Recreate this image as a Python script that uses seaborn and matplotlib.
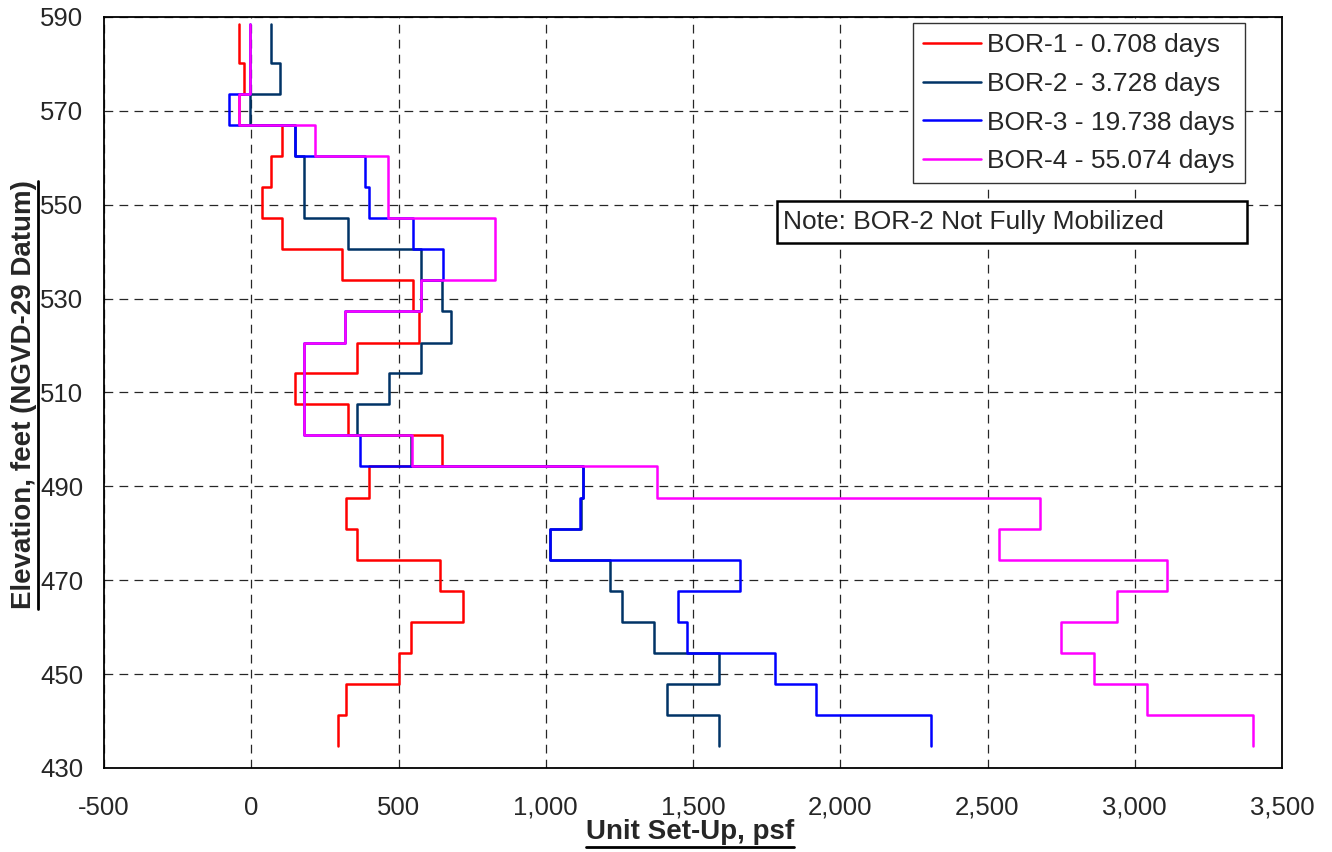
import numpy as np
import pandas as pd
import seaborn as sns
import matplotlib.pyplot as plt
from matplotlib.lines import Line2D
from matplotlib.patches import Rectangle
from matplotlib.ticker import MultipleLocator, FuncFormatter

# elevation breaks (ft, NGVD-29), top of pile to toe
elev = [588.6, 580.3, 573.5, 566.9, 560.4, 553.8, 547.1, 540.5, 534.0, 527.3, 520.6, 514.1,
        507.5, 500.9, 494.3, 487.6, 481.0, 474.4, 467.8, 461.2, 454.5, 447.9, 441.3, 434.6]

# unit set-up (psf) for each segment between the breaks
bor1 = [-43, -26, -43, 104, 67, 38, 106, 307, 548, 568, 359, 147, 329, 648, 400, 321, 360,
        640, 720, 543, 503, 321, 293]
bor2 = [67, 98, -3, 147, 178, 178, 327, 576, 648, 679, 576, 468, 359, 543, 1128, 1121, 1016,
        1219, 1258, 1368, 1589, 1411, 1589]
bor3 = [-3, -3, -74, 147, 387, 401, 548, 650, 576, 319, 178, 178, 178, 370, 1125, 1117, 1013,
        1659, 1449, 1478, 1778, 1918, 2309]
bor4 = [-3, -3, -43, 217, 466, 466, 829, 829, 576, 319, 178, 178, 178, 545, 1378, 2679, 2540,
        3110, 2939, 2751, 2861, 3040, 3400]

labels = ["BOR-1 - 0.708 days", "BOR-2 - 3.728 days", "BOR-3 - 19.738 days", "BOR-4 - 55.074 days"]
colors = ["#FF0000", "#003366", "#0000FF", "#FF00FF"]

rows = []
for lab, vals in zip(labels, [bor1, bor2, bor3, bor4]):
    for i, v in enumerate(vals):
        rows.append({"series": lab, "setup": v, "elev": elev[i]})
        rows.append({"series": lab, "setup": v, "elev": elev[i + 1]})
df = pd.DataFrame(rows)

sns.set_style("white")
plt.rcParams["font.family"] = ["Liberation Sans", "DejaVu Sans"]

fig = plt.figure(figsize=(13.32, 8.52), dpi=100)
ax = fig.add_axes([104 / 1332, 1 - 768 / 852, 1178 / 1332, 751 / 852])

for lab, col in zip(labels, colors):
    sns.lineplot(data=df[df.series == lab], x="setup", y="elev", sort=False, estimator=None,
                 color=col, lw=1.8, ax=ax)

ax.set_xlim(-500, 3500)
ax.set_ylim(430, 590)
ax.xaxis.set_major_locator(MultipleLocator(500))
ax.xaxis.set_minor_locator(MultipleLocator(100))
ax.set_yticks(np.arange(430, 591, 20))
ax.yaxis.set_minor_locator(MultipleLocator(5))
ax.xaxis.set_major_formatter(FuncFormatter(lambda v, p: f"{int(v):,}"))
ax.tick_params(axis="both", which="major", direction="inout", length=10, width=1.2,
               labelsize=18.5, color="black", pad=10)
ax.tick_params(axis="both", which="minor", direction="out", length=5, width=1.0, color="black")
ax.tick_params(axis="x", which="major", direction="out", length=7, pad=13)
ax.grid(True, which="major", color="black", linestyle=(0, (7, 5)), linewidth=0.9, alpha=0.85)
for s in ax.spines.values():
    s.set_color("black")
    s.set_linewidth(1.3)
ax.set_xlabel("")
ax.set_ylabel("")

handles = [Line2D([0], [0], color=c, lw=1.8) for c in colors]
leg = ax.legend(handles, labels, loc="upper right", bbox_to_anchor=(0.9686, 0.992),
                borderaxespad=0, fontsize=19, frameon=True, fancybox=False, framealpha=1,
                edgecolor="#333333", handlelength=2.2, handletextpad=0.25, labelspacing=0.56,
                borderpad=0.38)
leg.get_frame().set_linewidth(1.0)

ax.add_patch(Rectangle((0.5713, 0.699), 0.399, 0.0559, transform=ax.transAxes,
                       fill=True, facecolor="white", edgecolor="black", lw=1.8, zorder=5))
ax.text(0.5764, 0.727, "Note: BOR-2 Not Fully Mobilized", transform=ax.transAxes,
        fontsize=19, va="center", ha="left", zorder=6)

narrow = ["Liberation Sans Narrow", "DejaVu Sans Condensed", "Liberation Sans"]
xl = fig.text(690 / 1332, 1 - 832 / 852, "Unit Set-Up, psf", ha="center", va="center",
              fontsize=20, fontweight="bold", family=narrow)
yl = fig.text(24 / 1332, 1 - 395 / 852, "Elevation, feet (NGVD-29 Datum)", ha="center",
              va="center", rotation=90, fontsize=20, fontweight="bold", family=narrow)

# underline both axis titles
fig.canvas.draw()
r = fig.canvas.get_renderer()
inv = fig.transFigure.inverted()
bb = xl.get_window_extent(r).transformed(inv)
fig.add_artist(Line2D([bb.x0, bb.x1], [bb.y0 - 0.002, bb.y0 - 0.002], color="black", lw=2))
bb = yl.get_window_extent(r).transformed(inv)
fig.add_artist(Line2D([bb.x1 + 0.001, bb.x1 + 0.001], [bb.y0, bb.y1], color="black", lw=2))

fig.savefig("out.png", dpi=100)
